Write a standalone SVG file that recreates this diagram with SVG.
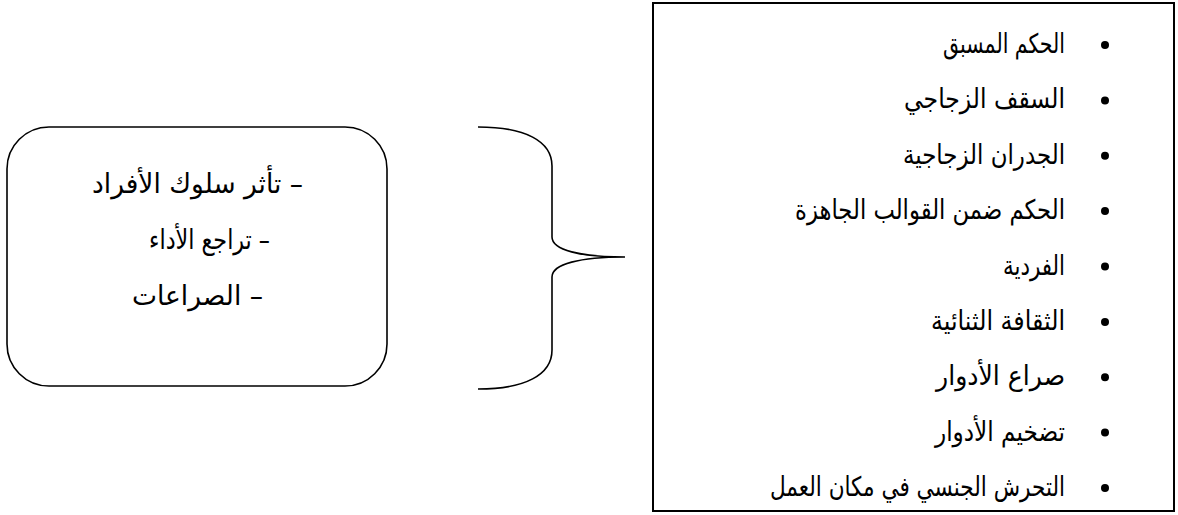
<svg xmlns="http://www.w3.org/2000/svg" width="1178" height="515" viewBox="0 0 1178 515">
<style>
.frame{fill:none;stroke:#000;stroke-width:2}
.rbox{fill:none;stroke:#000;stroke-width:1.6}
.brace{fill:none;stroke:#000;stroke-width:1.6}
.t{font-family:"DejaVu Sans",sans-serif;font-size:27px;fill:#000}
.dot{fill:#000}
</style>
<rect width="1178" height="515" fill="#fff"/>
<g id="effects">
<rect class="rbox" x="7" y="127" width="380" height="259" rx="42" ry="42"/>
<text class="t" x="303" y="193" text-anchor="end" textLength="211" lengthAdjust="spacingAndGlyphs">&#x200F;– تأثر سلوك الأفراد</text>
<text class="t" x="270" y="249" text-anchor="end" textLength="121" lengthAdjust="spacingAndGlyphs">&#x200F;– تراجع الأداء</text>
<text class="t" x="263" y="305" text-anchor="end" textLength="131" lengthAdjust="spacingAndGlyphs">&#x200F;– الصراعات</text>
</g>
<g id="connectors">
<path class="brace" d="M478,127 C525,127 552,141 552,166 L552,237 C552,250 580,257 625,257 C580,257 552,264 552,277 L552,350 C552,375 525,389 478,389"/>
</g>
<g id="factors">
<rect class="frame" x="653" y="3" width="521" height="508"/>
<g class="dot">
<circle cx="1105" cy="45" r="4"/>
<circle cx="1105" cy="100.4" r="4"/>
<circle cx="1105" cy="155.8" r="4"/>
<circle cx="1105" cy="211.1" r="4"/>
<circle cx="1105" cy="266.5" r="4"/>
<circle cx="1105" cy="321.9" r="4"/>
<circle cx="1105" cy="377.3" r="4"/>
<circle cx="1105" cy="432.6" r="4"/>
<circle cx="1105" cy="488" r="4"/>
</g>
<text class="t" x="1065" y="53" text-anchor="end" textLength="122" lengthAdjust="spacingAndGlyphs">الحكم المسبق</text>
<text class="t" x="1065" y="108.4" text-anchor="end" textLength="161" lengthAdjust="spacingAndGlyphs">السقف الزجاجي</text>
<text class="t" x="1065" y="163.8" text-anchor="end" textLength="162" lengthAdjust="spacingAndGlyphs">الجدران الزجاجية</text>
<text class="t" x="1065" y="219.1" text-anchor="end" textLength="270" lengthAdjust="spacingAndGlyphs">الحكم ضمن القوالب الجاهزة</text>
<text class="t" x="1065" y="274.5" text-anchor="end" textLength="62" lengthAdjust="spacingAndGlyphs">الفردية</text>
<text class="t" x="1065" y="329.9" text-anchor="end" textLength="134" lengthAdjust="spacingAndGlyphs">الثقافة الثنائية</text>
<text class="t" x="1065" y="385.3" text-anchor="end" textLength="129" lengthAdjust="spacingAndGlyphs">صراع الأدوار</text>
<text class="t" x="1065" y="440.6" text-anchor="end" textLength="130" lengthAdjust="spacingAndGlyphs">تضخيم الأدوار</text>
<text class="t" x="1065" y="496" text-anchor="end" textLength="295" lengthAdjust="spacingAndGlyphs">التحرش الجنسي في مكان العمل</text>
</g>
</svg>
